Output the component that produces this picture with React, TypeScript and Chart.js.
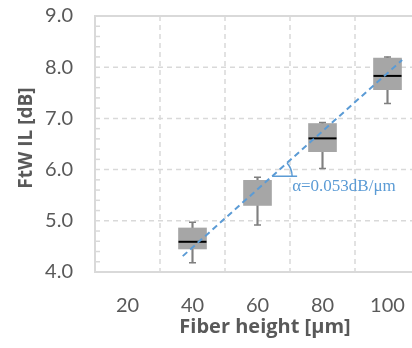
import React, { useEffect, useRef } from 'react';
import { Chart, registerables } from 'chart.js';

Chart.register(...registerables);

// ---- data ----
const heights = ['20', '40', '60', '80', '100'];
const whiskerLow = [null, 4.18, 4.92, 6.02, 7.29];
const boxLow = [null, 4.45, 5.3, 6.35, 7.56];
const medians = [null, 4.59, null, 6.61, 7.83];
const boxHigh = [null, 4.86, 5.79, 6.9, 8.18];
const whiskerHigh = [null, 4.97, 5.85, 6.92, 8.2];
const trendX = [37, 104.5];
const trendY = [4.31, 8.14];
const yTicks = [4, 5, 6, 7, 8, 9];
const minorStep = 0.2;
const slopeLabel = 'α=0.053dB/μm';
const angleVertexX = 64.5;
const yTitle = 'FtW IL [dB]';
const xTitle = 'Fiber height [μm]';

const GRID = '#d9d9d9';
const TEXT = '#595959';
const BLUE = '#5b9bd5';
const FONT = 'Lato';
const TITLE_FONT = '"Open Sans"';

const framePlugin = {
  id: 'frame',
  beforeDatasetsDraw(chart: any) {
    const { ctx, chartArea: a, scales } = chart;
    const x = scales.x;
    const y = scales.y;
    const line = (x1: number, y1: number, x2: number, y2: number) => {
      ctx.beginPath();
      ctx.moveTo(x1, y1);
      ctx.lineTo(x2, y2);
      ctx.stroke();
    };
    ctx.save();
    ctx.strokeStyle = GRID;
    ctx.lineWidth = 1.5;
    ctx.setLineDash([5, 4]);
    const yMin = yTicks[0];
    const yMax = yTicks[yTicks.length - 1];
    for (const v of yTicks) {
      if (v === yMin || v === yMax) continue;
      const py = y.getPixelForValue(v);
      line(a.left, py, a.right, py);
    }
    for (let i = 0; i < heights.length - 1; i++) {
      const px = (x.getPixelForTick(i) + x.getPixelForTick(i + 1)) / 2;
      line(px, a.top, px, a.bottom);
    }
    ctx.setLineDash([]);
    ctx.lineWidth = 2;
    ctx.strokeRect(a.left, a.top, a.right - a.left, a.bottom - a.top);
    ctx.lineWidth = 1.5;
    const n = Math.round((yMax - yMin) / minorStep);
    for (let k = 1; k < n; k++) {
      const v = yMin + k * minorStep;
      if (Math.abs(v - Math.round(v)) < 1e-6) continue;
      const py = y.getPixelForValue(v);
      line(a.left, py, a.left + 5, py);
    }
    ctx.restore();
  },
  afterDatasetsDraw(chart: any) {
    const { ctx, scales } = chart;
    const x2 = scales.x2;
    const y = scales.y;
    const slope = (trendY[1] - trendY[0]) / (trendX[1] - trendX[0]);
    const vy = trendY[0] + slope * (angleVertexX - trendX[0]);
    const px = x2.getPixelForValue(angleVertexX);
    const py = y.getPixelForValue(vy);
    const ex = x2.getPixelForValue(trendX[1]);
    const ey = y.getPixelForValue(trendY[1]);
    const ang = Math.atan2(ey - py, ex - px);
    ctx.save();
    ctx.strokeStyle = BLUE;
    ctx.lineWidth = 1.5;
    ctx.beginPath();
    ctx.moveTo(px, py);
    ctx.lineTo(px + 25, py);
    ctx.stroke();
    ctx.beginPath();
    ctx.arc(px, py, 20, ang, 0);
    ctx.stroke();
    ctx.fillStyle = BLUE;
    ctx.font = '17px "Liberation Serif"';
    ctx.textAlign = 'left';
    ctx.textBaseline = 'alphabetic';
    ctx.fillText(slopeLabel, px + 20, py + 15);
    ctx.restore();
  },
  afterDraw(chart: any) {
    const { ctx } = chart;
    ctx.save();
    ctx.fillStyle = TEXT;
    ctx.textAlign = 'center';
    ctx.textBaseline = 'middle';
    ctx.font = `bold 20px ${TITLE_FONT}`;
    ctx.fillText(xTitle, 265, 327);
    ctx.translate(27, 138);
    ctx.rotate(-Math.PI / 2);
    ctx.font = `bold 19px ${TITLE_FONT}`;
    ctx.fillText(yTitle, 0, 0);
    ctx.restore();
  },
};

export default function App() {
  const ref = useRef<HTMLCanvasElement>(null);
  useEffect(() => {
    document.body.style.margin = '0';
    const canvas = ref.current!;
    const chart = new Chart(canvas, {
      data: {
        labels: heights,
        datasets: [
          {
            type: 'bar',
            data: heights.map((_, i) => (whiskerLow[i] == null ? null : [whiskerLow[i], whiskerHigh[i]])) as any,
            backgroundColor: '#808080',
            barThickness: 1.5,
            grouped: false,
            order: 4,
          } as any,
          {
            type: 'bar',
            data: heights.map((_, i) => (boxLow[i] == null ? null : [boxLow[i], boxHigh[i]])) as any,
            backgroundColor: '#a6a6a6',
            borderWidth: 0,
            barThickness: 28,
            grouped: false,
            order: 3,
          } as any,
          {
            type: 'line',
            data: whiskerHigh as any,
            showLine: false,
            pointStyle: 'line',
            pointRadius: 3.5,
            borderColor: '#7f7f7f',
            pointBorderColor: '#7f7f7f',
            pointBorderWidth: 1.5,
            order: 2,
          },
          {
            type: 'line',
            data: whiskerLow as any,
            showLine: false,
            pointStyle: 'line',
            pointRadius: 3.5,
            borderColor: '#7f7f7f',
            pointBorderColor: '#7f7f7f',
            pointBorderWidth: 1.5,
            order: 2,
          },
          {
            type: 'line',
            data: medians as any,
            showLine: false,
            pointStyle: 'line',
            pointRadius: 14,
            borderColor: '#000000',
            pointBorderColor: '#000000',
            pointBorderWidth: 2,
            order: 1,
          },
          {
            type: 'line',
            xAxisID: 'x2',
            data: trendX.map((v, i) => ({ x: v, y: trendY[i] })) as any,
            borderColor: BLUE,
            borderWidth: 2,
            borderDash: [6, 4],
            pointRadius: 0,
            order: 0,
          },
        ],
      },
      options: {
        animation: false,
        responsive: false,
        devicePixelRatio: 1,
        layout: { padding: { top: 15, right: 20, left: 0, bottom: 0 } },
        plugins: { legend: { display: false }, tooltip: { enabled: false } },
        scales: {
          x: {
            type: 'category',
            offset: true,
            grid: { display: false, drawTicks: false },
            border: { display: false },
            ticks: { color: TEXT, font: { family: FONT, size: 20 }, padding: 22, maxRotation: 0 },
            title: { display: false },
            afterFit: (s: any) => {
              s.height = 76;
              s.paddingLeft = 0;
              s.paddingRight = 0;
            },
          },
          x2: {
            type: 'linear',
            display: false,
            min: 10,
            max: 110,
          },
          y: {
            type: 'linear',
            min: 4,
            max: 9,
            grid: { display: false, drawTicks: false },
            border: { display: false },
            ticks: {
              stepSize: 1,
              color: TEXT,
              font: { family: FONT, size: 20 },
              padding: 22,
              callback: (v: any) => Number(v).toFixed(1),
            },
            title: { display: false },
            afterFit: (s: any) => {
              s.width = 95;
              s.paddingTop = 0;
              s.paddingBottom = 0;
            },
          },
        },
      } as any,
      plugins: [framePlugin],
    });
    return () => chart.destroy();
  }, []);
  return (
    <div style={{ width: 412, height: 348, overflow: 'hidden' }}>
      <canvas ref={ref} width={440} height={348} style={{ display: 'block' }} />
    </div>
  );
}
